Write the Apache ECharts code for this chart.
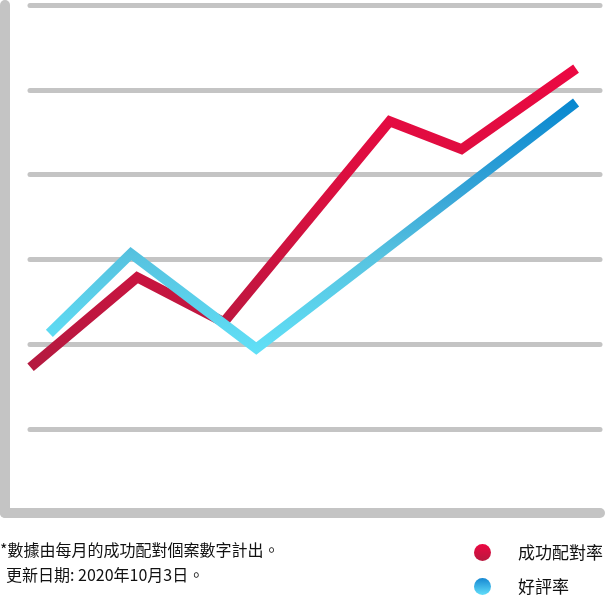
<!DOCTYPE html>
<html>
<head>
<meta charset="utf-8">
<script src="https://cdn.jsdelivr.net/npm/echarts@6/dist/echarts.min.js"></script>
<style>
html,body{margin:0;padding:0;background:#fff;}
#chart{width:605px;height:598px;}
</style>
</head>
<body>
<div id="chart"></div>
<script>
// Data (x position along period axis 0-100, y value on 0-6 scale)
var seriesNames = ['成功配對率', '好評率'];
var matchX = [0.1, 18.8, 34.0, 63.1, 75.7, 95.8];
var matchY = [1.73, 2.79, 2.26, 4.63, 4.30, 5.25];
var ratingX = [3.4, 17.7, 39.7, 95.8];
var ratingY = [2.13, 3.07, 1.95, 4.85];
var yTicks = [0, 1, 2, 3, 4, 5, 6];
var footnote1 = '*數據由每月的成功配對個案數字計出。';
var footnote2 = '更新日期: 2020年10月3日。';

function pairs(xs, ys) { return xs.map(function (x, i) { return [x, ys[i]]; }); }
function grad(stops) {
  return new echarts.graphic.LinearGradient(0, 0, 0, 1, stops.map(function (s) { return { offset: s[0], color: s[1] }; }));
}
var redGrad = grad([[0, '#ec0842'], [0.45, '#d8103f'], [1, '#b31a40']]);
var blueGrad = grad([[0, '#0686cf'], [0.4, '#3aa7d8'], [0.62, '#57c3e0'], [1, '#60e0f7']]);
var redDot = grad([[0, '#ec0842'], [1, '#b8183f']]);
var blueDot = grad([[0, '#1688d2'], [1, '#62defa']]);

var GRAY = '#c4c4c4';
var FONT = '"Noto Sans CJK TC", "Noto Sans", sans-serif';

function legendFor(idx, top, color) {
  return {
    orient: 'horizontal',
    left: 474,
    top: top,
    icon: 'circle',
    itemWidth: 17,
    itemHeight: 17,
    selectedMode: false,
    padding: 0,
    textStyle: { fontFamily: FONT, fontSize: 17, color: '#111', padding: [0, 0, 0, 22] },
    data: [{ name: seriesNames[idx], itemStyle: { color: color } }]
  };
}

var chart = echarts.init(document.getElementById('chart'), null, { renderer: 'canvas' });
chart.setOption({
  animation: false,
  backgroundColor: '#fff',
  grid: [
    { left: 5, right: 5, top: 5, bottom: 85 },
    { left: 30, right: 5, top: 5, bottom: 84 }
  ],
  xAxis: [
    { gridIndex: 0, type: 'value', min: 0, max: 1,
      axisLine: { show: true, onZero: false, lineStyle: { color: GRAY, width: 10, cap: 'round' } },
      axisTick: { show: false }, axisLabel: { show: false }, splitLine: { show: false } },
    { gridIndex: 1, type: 'value', min: 0, max: 100, show: false }
  ],
  yAxis: [
    { gridIndex: 0, type: 'value', min: 0, max: 1,
      axisLine: { show: true, onZero: false, lineStyle: { color: GRAY, width: 10, cap: 'round' } },
      axisTick: { show: false }, axisLabel: { show: false }, splitLine: { show: false } },
    { gridIndex: 1, type: 'value', min: yTicks[0], max: yTicks[yTicks.length - 1], interval: 1,
      axisLine: { show: false }, axisTick: { show: false }, axisLabel: { show: false },
      splitLine: { show: true, lineStyle: { color: GRAY, width: 5, cap: 'round' } } }
  ],
  legend: [
    legendFor(0, 544, redDot),
    legendFor(1, 578, blueDot)
  ],
  series: [
    { name: seriesNames[0], type: 'line', xAxisIndex: 1, yAxisIndex: 1,
      data: pairs(matchX, matchY), symbol: 'none', silent: true,
      itemStyle: { color: redDot },
      lineStyle: { color: redGrad, width: 10, join: 'miter', cap: 'butt' }, z: 3 },
    { name: seriesNames[1], type: 'line', xAxisIndex: 1, yAxisIndex: 1,
      data: pairs(ratingX, ratingY), symbol: 'none', silent: true,
      itemStyle: { color: blueDot },
      lineStyle: { color: blueGrad, width: 10, join: 'miter', cap: 'butt' }, z: 4 }
  ],
  graphic: [
    { type: 'text', left: 0, top: 542,
      style: { text: footnote1, font: '16px ' + FONT, fill: '#111' } },
    { type: 'text', left: 6, top: 567,
      style: { text: footnote2, font: '16px ' + FONT, fill: '#111' } }
  ]
});
</script>
</body>
</html>
